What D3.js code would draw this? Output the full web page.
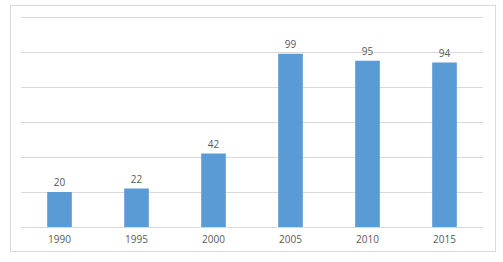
<!DOCTYPE html>
<html>
<head>
<meta charset="utf-8">
<script src="https://cdn.jsdelivr.net/npm/d3@7"></script>
<style>
  body { margin: 0; background: #fff; }
  text { font-family: "Open Sans", "Liberation Sans", sans-serif; }
</style>
</head>
<body>
<div id="chart"></div>
<script>
const years = ["1990", "1995", "2000", "2005", "2010", "2015"];
const values = [20, 22, 42, 99, 95, 94];
const yTicks = [0, 20, 40, 60, 80, 100, 120];

const W = 503, H = 262;
const margin = { top: 17, right: 20, bottom: 35, left: 21 };
const width = W - margin.left - margin.right;
const height = H - margin.top - margin.bottom;

const svg = d3.select("#chart").append("svg")
    .attr("width", W)
    .attr("height", H);

// outer frame
svg.append("rect")
    .attr("x", 10.5)
    .attr("y", 5.5)
    .attr("width", 485)
    .attr("height", 246)
    .attr("fill", "#fff")
    .attr("stroke", "#d9d9d9");

const g = svg.append("g")
    .attr("transform", "translate(" + margin.left + "," + margin.top + ")");

const x = d3.scaleBand()
    .domain(years)
    .range([0, width])
    .paddingInner(0.68)
    .paddingOuter(0.34);

const y = d3.scaleLinear()
    .domain([0, 120])
    .range([height, 0]);

// gridlines
g.selectAll(".grid")
    .data(yTicks)
    .enter().append("line")
    .attr("class", "grid")
    .attr("x1", 0)
    .attr("x2", width)
    .attr("y1", d => Math.round(y(d)) + 0.5)
    .attr("y2", d => Math.round(y(d)) + 0.5)
    .attr("stroke", "#d9d9d9");

g.selectAll(".bar")
    .data(values)
    .enter().append("rect")
    .attr("class", "bar")
    .attr("x", (d, i) => x(years[i]))
    .attr("y", d => y(d))
    .attr("width", x.bandwidth())
    .attr("height", d => height - y(d))
    .attr("fill", "#5b9bd5");

g.selectAll(".val")
    .data(values)
    .enter().append("text")
    .attr("class", "val")
    .attr("x", (d, i) => x(years[i]) + x.bandwidth() / 2)
    .attr("y", d => y(d) - 6)
    .attr("text-anchor", "middle")
    .attr("font-size", "10px")
    .attr("fill", "#595959")
    .text(d => d);

const xAxis = d3.axisBottom(x).tickSize(0).tickPadding(9);
const ax = g.append("g")
    .attr("transform", "translate(0," + height + ")")
    .call(xAxis);
ax.select(".domain").remove();
ax.selectAll("text")
    .attr("font-size", "10px")
    .attr("fill", "#595959");
</script>
</body>
</html>
